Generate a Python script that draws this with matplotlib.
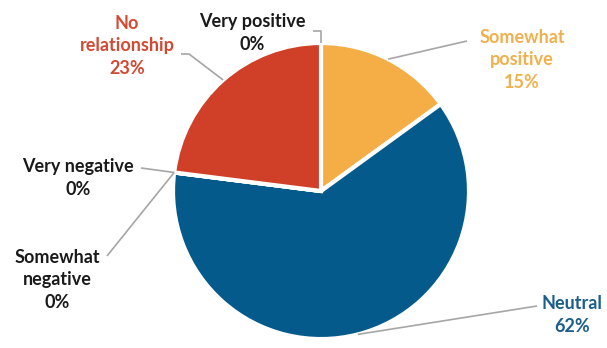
import matplotlib.pyplot as plt
import numpy as np

# data
categories = ['Very positive', 'Somewhat positive', 'Neutral',
              'Somewhat negative', 'Very negative', 'No relationship']
shares = [0, 15, 62, 0, 0, 23]
slice_colors = ['#F5AE45', '#F5AE45', '#045A8B', '#D03F28', '#D03F28', '#D03F28']
label_colors = ['#1A1A1A', '#F0B04E', '#1B5E8C', '#1A1A1A', '#1A1A1A', '#D24A33']
label_text = ['Very positive', 'Somewhat\npositive', 'Neutral',
              'Somewhat\nnegative', 'Very negative', 'No\nrelationship']

W, H = 607, 348
fig = plt.figure(figsize=(W / 100, H / 100), dpi=100)
ax = fig.add_axes([0, 0, 1, 1])

explode = [0, 0, 0.055, 0, 0, 0]
wedges, _ = ax.pie(shares, colors=slice_colors, startangle=90, counterclock=False,
                   center=(321, H - 191), radius=148, explode=explode,
                   wedgeprops=dict(edgecolor='white', linewidth=3))
ax.set_xlim(0, W)
ax.set_ylim(0, H)
ax.set_aspect('auto')
ax.axis('off')


def arc_point(w):
    ang = np.deg2rad((w.theta1 + w.theta2) / 2)
    cx, cy = w.center
    return cx + w.r * np.cos(ang), cy + w.r * np.sin(ang)


# label placement: text centre, line start, optional elbow (pixel coords, y from top)
layout = {
    'Very positive': ((252, 33), (313, 31), 'vert'),
    'Somewhat positive': ((522, 60), (467, 41), None),
    'Neutral': ((572, 315), (537, 306), None),
    'Somewhat negative': ((57, 280), (107, 256), None),
    'Very negative': ((78, 178), (141, 168), None),
    'No relationship': ((127, 46), (181, 54), 'horiz'),
}

for w, cat, val, txt, col in zip(wedges, categories, shares, label_text, label_colors):
    (tx, ty), (lx, ly), elbow = layout[cat]
    px, py = arc_point(w)
    xs, ys = [lx], [H - ly]
    if elbow == 'vert':
        xs.append(px)
        ys.append(H - ly)
    elif elbow == 'horiz':
        xs.append(lx + 8)
        ys.append(H - ly)
    xs.append(px)
    ys.append(py)
    ax.plot(xs, ys, color='#A6A6A6', lw=1.2, solid_capstyle='butt', zorder=3)
    ax.text(tx, H - ty, f'{txt}\n{val}%', ha='center', va='center', color=col,
            fontsize=13, fontweight='bold', family='Lato', linespacing=1.42)

fig.savefig('out.png', dpi=100)
